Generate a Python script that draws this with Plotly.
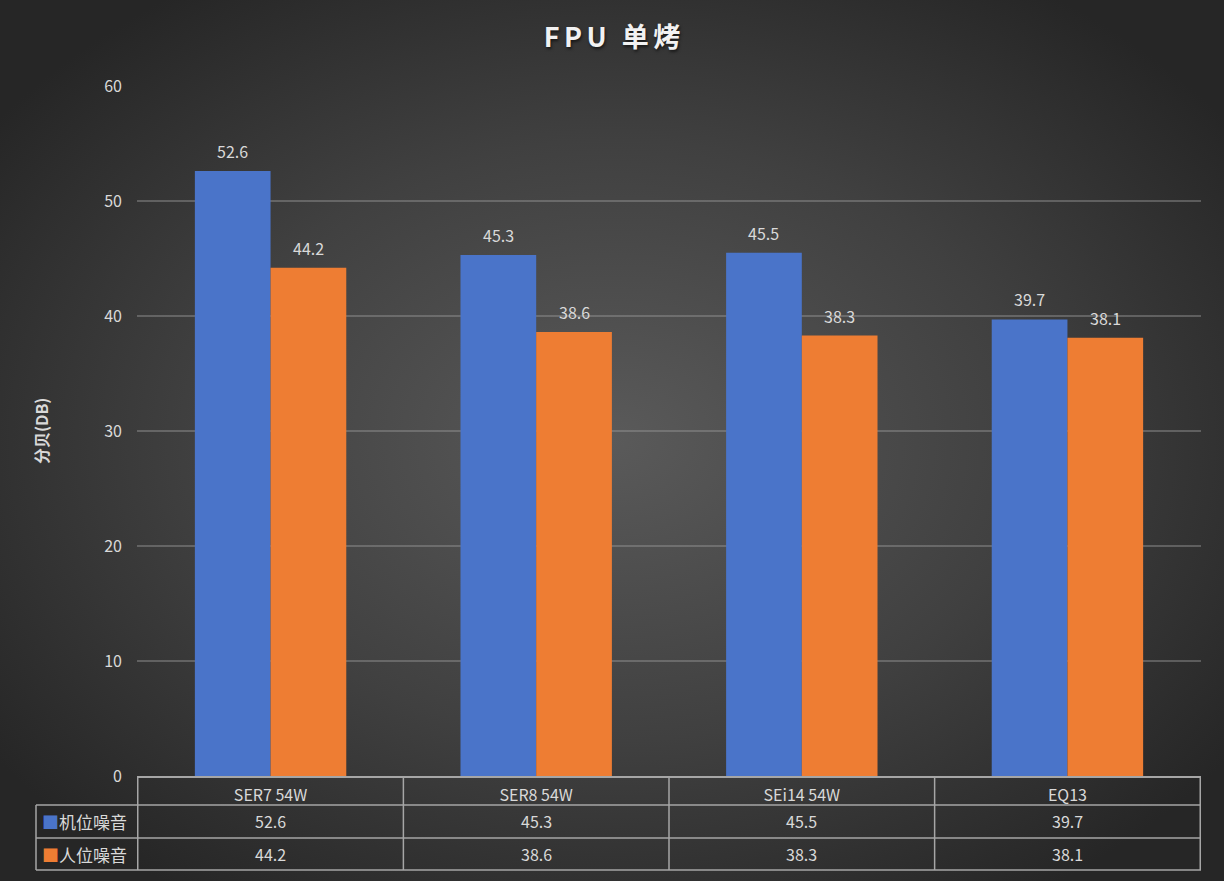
import base64
import plotly.graph_objects as go

categories = ["SER7 54W", "SER8 54W", "SEi14 54W", "EQ13"]
series_names = ["机位噪音", "人位噪音"]
machine_noise = [52.6, 45.3, 45.5, 39.7]
seat_noise = [44.2, 38.6, 38.3, 38.1]
y_ticks = [0, 10, 20, 30, 40, 50, 60]
title_text = "FPU 单烤"

W, H = 1224, 881
L, R, T, B = 137, 23, 86, 105
PW, PH = W - L - R, H - T - B

blue = "#4a74c9"
orange = "#ee7d33"
txt = "#d9d9d9"
font_family = "Noto Sans CJK SC, Noto Sans, sans-serif"
BARGAP = 0.43
bar_w = (1 - BARGAP) / 2

svg = f"""<svg xmlns='http://www.w3.org/2000/svg' width='{W}' height='{H}' viewBox='0 0 {W} {H}' preserveAspectRatio='none'>
<defs><radialGradient id='g' cx='50%' cy='50%' r='62%' fx='50%' fy='50%'>
<stop offset='0%' stop-color='#5a5a5a'/><stop offset='55%' stop-color='#404040'/><stop offset='100%' stop-color='#262626'/>
</radialGradient></defs><rect width='{W}' height='{H}' fill='url(#g)'/></svg>"""
bg_uri = "data:image/svg+xml;base64," + base64.b64encode(svg.encode()).decode()

fig = go.Figure()
for name, vals, col in [(series_names[0], machine_noise, blue), (series_names[1], seat_noise, orange)]:
    fig.add_trace(go.Bar(x=categories, y=vals, name=name, hoverinfo="skip",
                         marker=dict(color=col, line=dict(width=0))))

def px_to_paper_x(px):
    return (px - L) / PW

def px_to_paper_y(py):
    return (H - B - py) / PH

line_col = "#a6a6a6"
shapes = []
for py in [805, 838, 870]:
    shapes.append(dict(type="line", xref="paper", yref="paper",
                       x0=px_to_paper_x(36), x1=1, y0=px_to_paper_y(py), y1=px_to_paper_y(py),
                       line=dict(color=line_col, width=1.5)))
for i in range(len(categories) + 1):
    shapes.append(dict(type="line", xref="x", yref="paper",
                       x0=i - 0.5, x1=i - 0.5, y0=0, y1=px_to_paper_y(870),
                       line=dict(color=line_col, width=1.5)))
shapes.append(dict(type="line", xref="paper", yref="paper",
                   x0=px_to_paper_x(36), x1=px_to_paper_x(36),
                   y0=px_to_paper_y(805), y1=px_to_paper_y(870),
                   line=dict(color=line_col, width=1.5)))

annotations = []
for s, vals in enumerate([machine_noise, seat_noise]):
    off = (s - 0.5) * bar_w
    for i, v in enumerate(vals):
        annotations.append(dict(xref="x", yref="y", x=i + off, y=v, yshift=20,
                                xanchor="center", yanchor="middle", showarrow=False,
                                text=f"{v:.1f}", font=dict(color=txt, size=16, family=font_family)))

rows = [(series_names[0], machine_noise, blue, 821), (series_names[1], seat_noise, orange, 854)]
for name, vals, col, py in rows:
    annotations.append(dict(
        xref="paper", yref="paper", x=px_to_paper_x(40), y=px_to_paper_y(py),
        xanchor="left", yanchor="middle", showarrow=False,
        text=f"<span style='color:{col}'>■</span>{name}",
        font=dict(color=txt, size=17, family=font_family)))
    for c, v in zip(categories, vals):
        annotations.append(dict(
            xref="x", yref="paper", x=c, y=px_to_paper_y(py),
            xanchor="center", yanchor="middle", showarrow=False,
            text=f"{v:.1f}", font=dict(color=txt, size=16, family=font_family)))

annotations.append(dict(
    xref="paper", yref="paper", x=px_to_paper_x(41), y=0.5,
    xanchor="center", yanchor="middle", showarrow=False, textangle=-90,
    text="<b>分贝(DB)</b>", font=dict(color=txt, size=16, family=font_family)))

spaced_title = "\u2006".join(title_text)

fig.update_layout(
    width=W, height=H,
    margin=dict(l=L, r=R, t=T, b=B, pad=0),
    paper_bgcolor="#333333", plot_bgcolor="rgba(0,0,0,0)",
    title=dict(text=f"<b>{spaced_title}</b>", x=0.5, xanchor="center", y=1 - 38 / H, yanchor="middle",
               xref="container", yref="container",
               font=dict(color="#f2f2f2", size=27, family=font_family,
                         shadow="1px 2px 3px rgba(0,0,0,0.6)")),
    showlegend=False,
    barmode="group", bargap=BARGAP, bargroupgap=0,
    images=[dict(source=bg_uri, xref="paper", yref="paper",
                 x=-L / PW, y=1 + T / PH, sizex=W / PW, sizey=H / PH,
                 xanchor="left", yanchor="top", sizing="stretch", layer="below")],
    shapes=shapes, annotations=annotations,
)
fig.update_xaxes(showgrid=False, showline=True, linecolor=line_col, linewidth=1.5,
                 tickfont=dict(color=txt, size=16, family=font_family), ticks="",
                 ticklabelstandoff=4, zeroline=False)
fig.update_yaxes(range=[0, 60], tickvals=y_ticks, showgrid=True,
                 gridcolor="rgba(150,150,150,0.45)", gridwidth=1.5, zeroline=False,
                 tickfont=dict(color=txt, size=16, family=font_family),
                 ticklabelstandoff=14, showline=False)

fig.write_html("out.html", config={"displayModeBar": False},
               post_script="document.body.style.margin='0';document.body.style.background='#262626';")
